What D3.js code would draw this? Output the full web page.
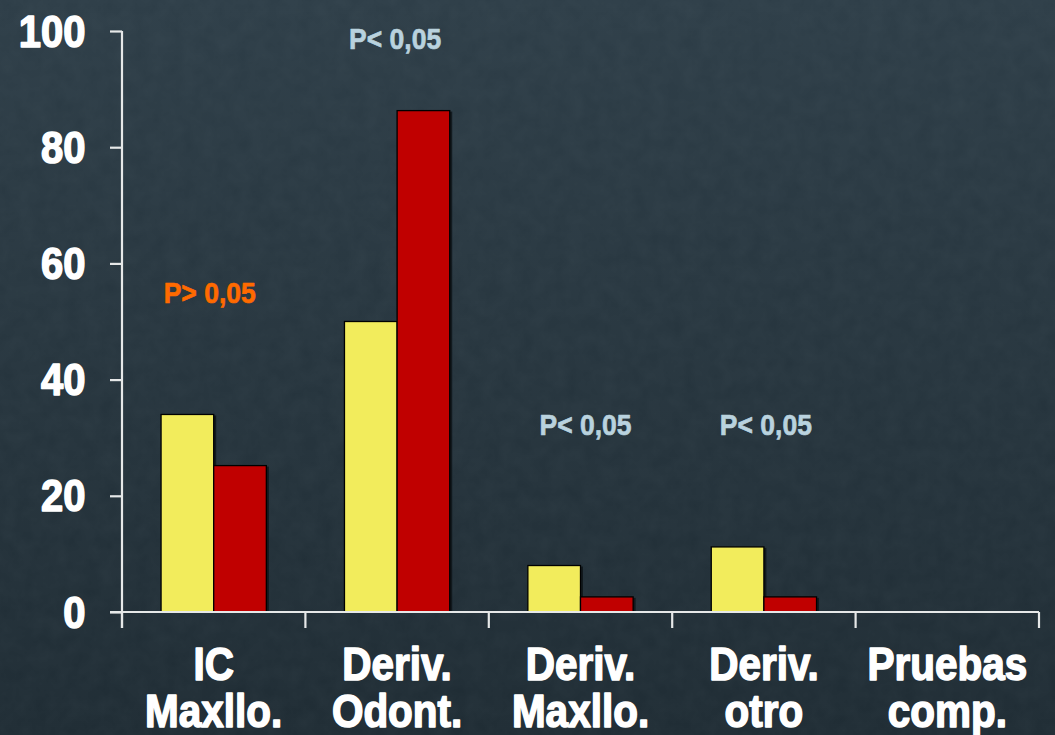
<!DOCTYPE html>
<html>
<head>
<meta charset="utf-8">
<script src="https://cdn.jsdelivr.net/npm/d3@7"></script>
<style>
  html, body { margin: 0; padding: 0; background: #24333c; }
  svg { display: block; }
  text { font-family: "Liberation Sans", Arial, sans-serif; font-weight: bold; }
</style>
</head>
<body>
<svg id="chart" width="1055" height="735"></svg>
<script>
// Categories (two-line labels)
const categories = ["IC Maxllo.", "Deriv. Odont.", "Deriv. Maxllo.", "Deriv. otro", "Pruebas comp."];
const categoryLines = [["IC", "Maxllo."], ["Deriv.", "Odont."], ["Deriv.", "Maxllo."], ["Deriv.", "otro"], ["Pruebas", "comp."]];
// Series values (%)
const seriesNames = ["grupo1", "grupo2"];
const group1 = [34, 50, 8, 11.2, 0];
const group2 = [25.2, 86.3, 2.6, 2.6, 0];
// Significance labels per category
const pLabels = ["P> 0,05", "P< 0,05", "P< 0,05", "P< 0,05", ""];
// Y-axis ticks
const yTicks = [0, 20, 40, 60, 80, 100];

const W = 1055, H = 735;
const svg = d3.select("#chart");
const defs = svg.append("defs");

// background: dark slate gradient with faint mottled texture
const grad = defs.append("linearGradient").attr("id", "bg").attr("x1", 0).attr("y1", 0).attr("x2", 0).attr("y2", 1);
grad.append("stop").attr("offset", "0%").attr("stop-color", "#2d3d47");
grad.append("stop").attr("offset", "100%").attr("stop-color", "#1e2b33");
const noise = defs.append("filter").attr("id", "noise").attr("x", 0).attr("y", 0).attr("width", "100%").attr("height", "100%");
noise.append("feTurbulence").attr("type", "fractalNoise").attr("baseFrequency", 0.06).attr("numOctaves", 3).attr("seed", 4).attr("result", "t");
noise.append("feColorMatrix").attr("type", "matrix")
  .attr("values", "0 0 0 0 0.55  0 0 0 0 0.65  0 0 0 0 0.7  0 0 0 0.05 0");
svg.append("rect").attr("width", W).attr("height", H).attr("fill", "url(#bg)");
svg.append("rect").attr("width", W).attr("height", H).attr("filter", "url(#noise)");

// scales
const x0 = d3.scaleBand().domain(categories).range([122, 1039]).paddingInner(0).paddingOuter(0);
const bw = x0.bandwidth();
const x1 = d3.scaleBand().domain(seriesNames).range([bw * 0.213, bw * 0.787]).padding(0);
const y = d3.scaleLinear().domain([0, 100]).range([612, 31]);

const seriesColor = { grupo1: "#f2ec5c", grupo2: "#c00000" };
const rows = categories.map((c, i) => ({ cat: c, vals: [
  { key: "grupo1", v: group1[i] }, { key: "grupo2", v: group2[i] }
]}));

// bars
const g = svg.append("g");
const groups = g.selectAll("g.cat").data(rows).join("g")
  .attr("class", "cat")
  .attr("transform", d => `translate(${x0(d.cat)},0)`);
const barData = d => d.vals.filter(e => e.v > 0);
groups.selectAll("rect.shadow").data(barData).join("rect")
  .attr("class", "shadow")
  .attr("x", e => x1(e.key) + 2.5)
  .attr("y", e => y(e.v) + 1)
  .attr("width", x1.bandwidth())
  .attr("height", e => y(0) - y(e.v) - 1)
  .attr("fill", "#0c1317").attr("opacity", 0.8);
groups.selectAll("rect.bar").data(barData).join("rect")
  .attr("class", "bar")
  .attr("x", e => x1(e.key))
  .attr("y", e => y(e.v))
  .attr("width", x1.bandwidth())
  .attr("height", e => y(0) - y(e.v))
  .attr("fill", e => seriesColor[e.key])
  .attr("stroke", "#000").attr("stroke-width", 1.3);

// axes
const axisColor = "#e6e8e8";
const yAxis = svg.append("g").attr("transform", "translate(122,0)")
  .call(d3.axisLeft(y).tickValues(yTicks).tickSize(12).tickFormat(""));
yAxis.select(".domain").attr("d", `M0,${y(100)}V628`);
const xAxis = svg.append("g").attr("transform", `translate(0,${y(0)})`)
  .call(d3.axisBottom(x0).tickSize(0).tickFormat(""));
xAxis.select(".domain").attr("d", "M110,0H1039");
xAxis.selectAll(".tick").remove();
const bounds = categories.map(c => x0(c)).concat([x0.range()[1]]);
xAxis.selectAll("line.sep").data(bounds).join("line")
  .attr("class", "sep")
  .attr("x1", d => d).attr("x2", d => d).attr("y1", 0).attr("y2", 16);
svg.selectAll(".domain, .tick line, line.sep")
  .attr("stroke", axisColor).attr("stroke-width", 2.2).attr("fill", "none");

// text helper (slightly tall, heavy lettering)
const stretch = 1.12;
function label(sel, xx, yy, txt, size, color, anchor, weight) {
  return sel.append("text")
    .attr("transform", `translate(${xx},${yy}) scale(1,${stretch})`)
    .attr("text-anchor", anchor || "middle")
    .attr("font-size", size)
    .attr("fill", color)
    .attr("stroke", color)
    .attr("stroke-width", weight || 1.2)
    .attr("stroke-linejoin", "round")
    .text(txt);
}

// y tick labels
const tl = svg.append("g");
yTicks.forEach(t => label(tl, 85.5, y(t) + 15.5, String(t), 40, "#ffffff", "end", 1.4));

// category labels
const cl = svg.append("g");
categoryLines.forEach((lines, i) => {
  const cx = x0(categories[i]) + bw / 2;
  label(cl, cx, 680, lines[0], 40.5, "#ffffff", "middle", 1.4);
  label(cl, cx, 727, lines[1], 40.5, "#ffffff", "middle", 1.4);
});

// significance labels
const pLevel = [53.2, 96.9, 30.5, 30.5, 0];
const pShift = [-4, -2, 5, 2, 0];
const pl = svg.append("g");
pLabels.forEach((p, i) => {
  if (!p) return;
  const cx = x0(categories[i]) + bw / 2 + pShift[i];
  const col = p.includes(">") ? "#ff6a00" : "#b9d2de";
  label(pl, cx, y(pLevel[i]), p, 26.5, col, "middle", 0.6);
});
</script>
</body>
</html>
